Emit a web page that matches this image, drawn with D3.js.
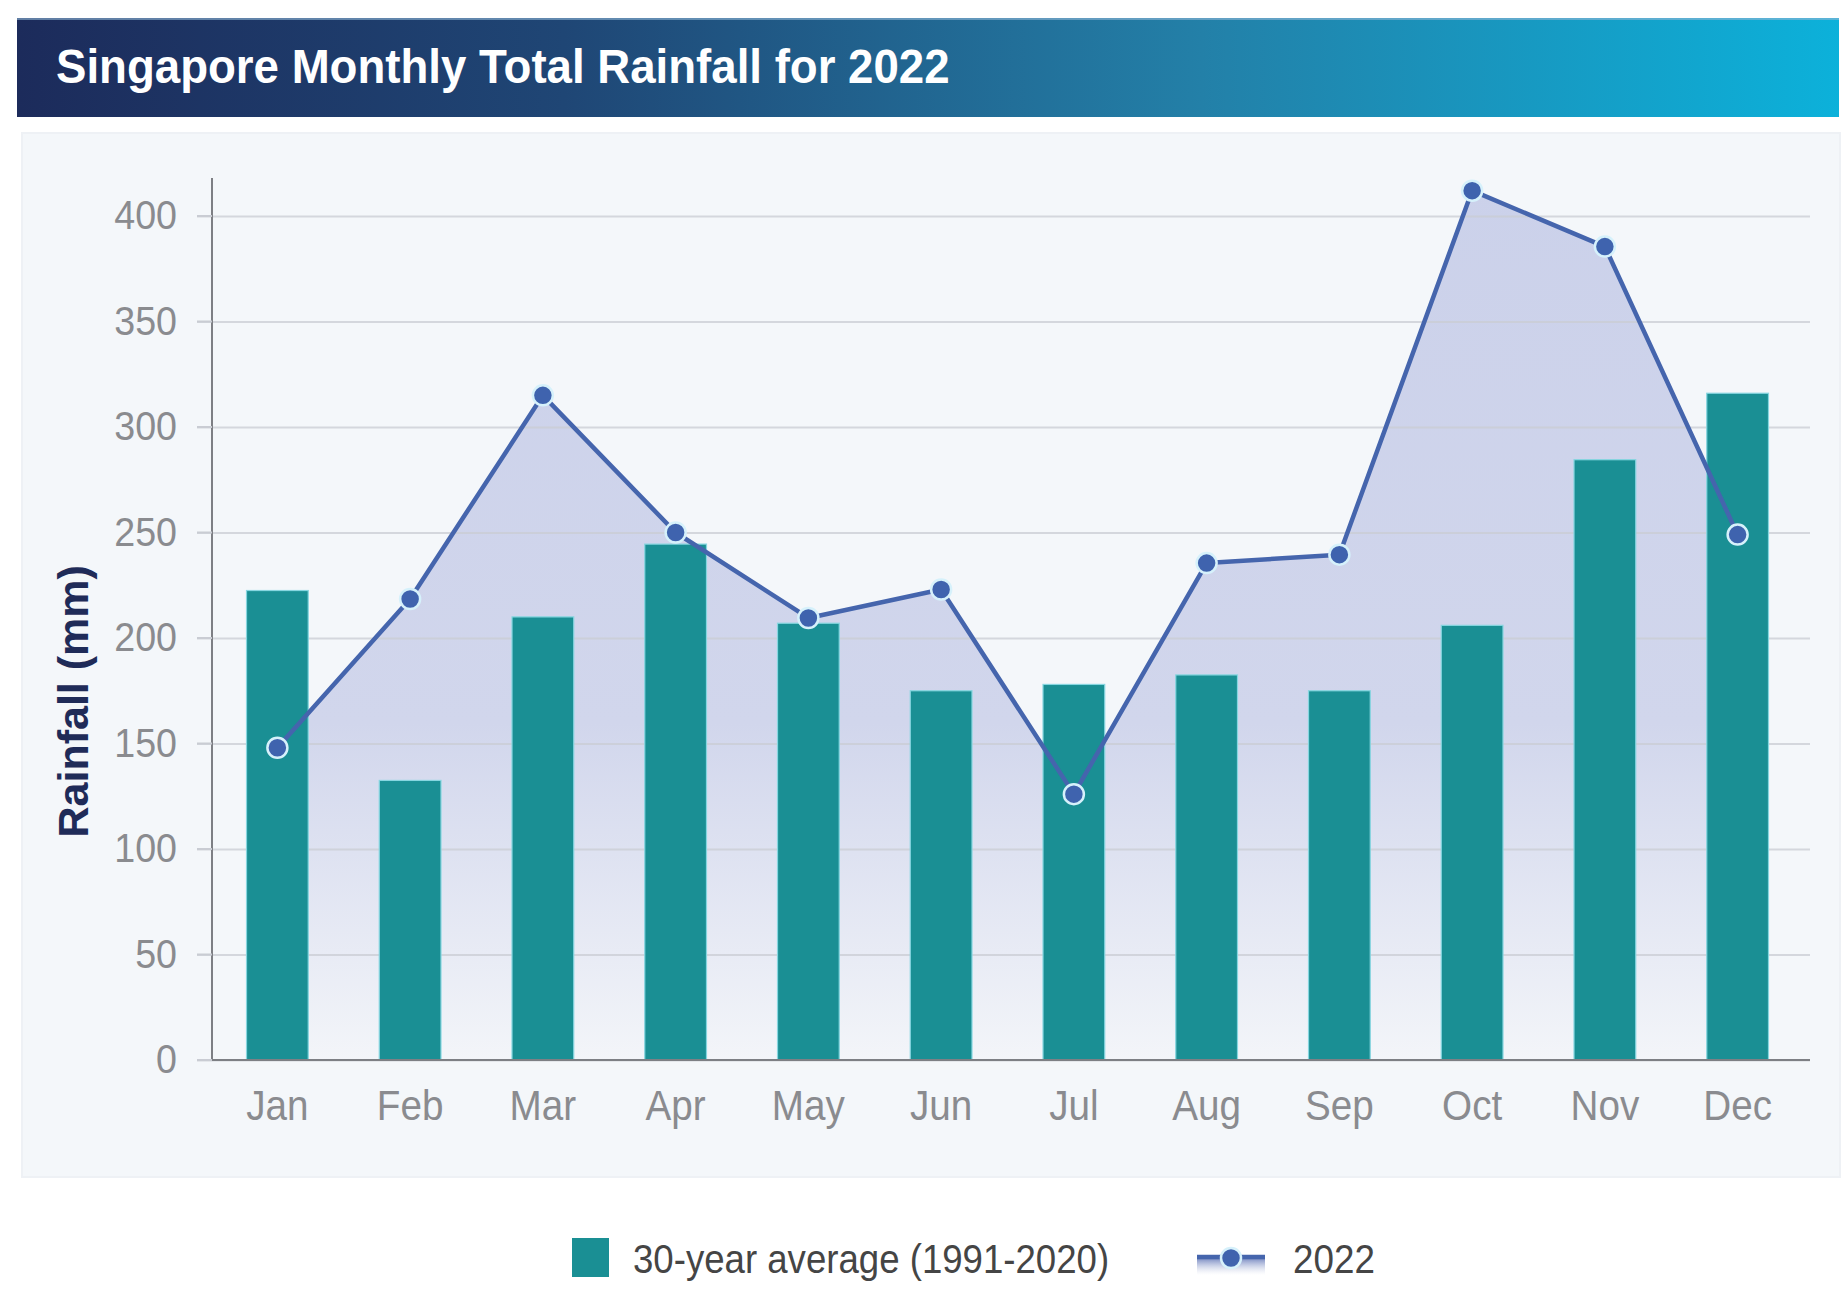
<!DOCTYPE html>
<html>
<head>
<meta charset="utf-8">
<script src="https://cdnjs.cloudflare.com/ajax/libs/d3/7.8.5/d3.min.js"></script>
<style>
  html, body { margin: 0; padding: 0; background: #ffffff; }
  svg { display: block; font-family: "Liberation Sans", Arial, sans-serif; }
</style>
</head>
<body>
<div id="chart"></div>
<script>

var months = ['Jan', 'Feb', 'Mar', 'Apr', 'May', 'Jun', 'Jul', 'Aug', 'Sep', 'Oct', 'Nov', 'Dec'];
var avg3020 = [222.5, 132.5, 210, 244.5, 207, 175, 178, 182.5, 175, 206, 284.5, 316];
var rain2022 = [148, 218.5, 315, 250, 209.5, 223, 126, 235.5, 239.5, 412, 385.5, 249];
var yTicks = [0, 50, 100, 150, 200, 250, 300, 350, 400];
var legendLabels = ['30-year average (1991-2020)', '2022'];
var chartTitle = 'Singapore Monthly Total Rainfall for 2022';
var yTitle = 'Rainfall (mm)';

var widthCont = 1848,
    heightCont = 1306;

var teal = '#1a8f94',
    lineBlue = '#4565ad',
    dotBlue = '#3f63ae';

var svg = d3.select('#chart').append('svg')
    .attr('width', widthCont)
    .attr('height', heightCont);

var defs = svg.append('defs');

var titleGrad = defs.append('linearGradient')
    .attr('id', 'titleGrad')
    .attr('x1', '0%').attr('x2', '100%').attr('y1', '0%').attr('y2', '0%');
titleGrad.append('stop').attr('offset', '0%').attr('stop-color', '#1c2b5b');
titleGrad.append('stop').attr('offset', '30%').attr('stop-color', '#1f4675');
titleGrad.append('stop').attr('offset', '65%').attr('stop-color', '#2380a8');
titleGrad.append('stop').attr('offset', '100%').attr('stop-color', '#0cb1da');

var x = d3.scaleBand()
    .domain(months)
    .range([211, 1804])
    .paddingInner(0.535)
    .paddingOuter(0.2675);

var y = d3.scaleLinear()
    .domain([0, 400])
    .range([1060, 216]);

var gridRight = 1810;

var areaGrad = defs.append('linearGradient')
    .attr('id', 'areaGrad')
    .attr('gradientUnits', 'userSpaceOnUse')
    .attr('x1', 0).attr('x2', 0)
    .attr('y1', y(420)).attr('y2', y(0));
areaGrad.append('stop').attr('offset', '0%').attr('stop-color', '#cbd1ea');
areaGrad.append('stop').attr('offset', '62%').attr('stop-color', '#d1d6ec');
areaGrad.append('stop').attr('offset', '100%').attr('stop-color', '#f3f5f9');

var legGrad = defs.append('linearGradient')
    .attr('id', 'legGrad')
    .attr('x1', 0).attr('x2', 0).attr('y1', 0).attr('y2', 1);
legGrad.append('stop').attr('offset', '0%').attr('stop-color', '#4a62ad');
legGrad.append('stop').attr('offset', '100%').attr('stop-color', '#ffffff').attr('stop-opacity', 0.3);

// the reference is a little squeezed sideways, so texts get narrowed
var squeeze = function( k ){
  return function( sel ){
    sel.each(function(){
      var len = this.getComputedTextLength();
      d3.select(this)
        .attr('textLength', len * k)
        .attr('lengthAdjust', 'spacingAndGlyphs');
    });
  };
};

// Title bar
svg.append('rect')
  .attr('x', 17).attr('y', 18)
  .attr('width', 1822).attr('height', 99)
  .attr('fill', 'url(#titleGrad)');

svg.append('line')
  .attr('x1', 17).attr('x2', 1839).attr('y1', 19).attr('y2', 19)
  .attr('stroke', '#8fb6d6').attr('stroke-width', 2).attr('opacity', 0.6);

svg.append('text')
  .attr('x', 56).attr('y', 83)
  .attr('fill', '#ffffff')
  .style('font-size', '48px')
  .style('font-weight', 'bold')
  .text(chartTitle)
  .call(squeeze(0.95));

// Panel
svg.append('rect')
  .attr('x', 22).attr('y', 133)
  .attr('width', 1818).attr('height', 1044)
  .attr('fill', '#f4f7fa')
  .attr('stroke', '#eef1f5')
  .attr('stroke-width', 2);

var cx = function(d, i){ return x(months[i]) + x.bandwidth() / 2; };

// Area under the 2022 line
var area = d3.area()
    .x(cx)
    .y0(y(0))
    .y1(function(d){ return y(d); });

svg.append('path')
  .datum(rain2022)
  .attr('d', area)
  .attr('fill', 'url(#areaGrad)');

// Gridlines
var grid = svg.append('g')
    .attr('transform', 'translate(' + gridRight + ',0)')
    .call(d3.axisLeft(y).tickValues(yTicks).tickSize(gridRight - 197).tickFormat(''));
grid.select('.domain').remove();
grid.selectAll('.tick line')
  .attr('stroke', '#c9ccd3')
  .attr('stroke-opacity', 0.75)
  .attr('stroke-width', 2);

// Bars
svg.append('g').selectAll('rect')
  .data(avg3020)
  .join('rect')
    .attr('x', function(d, i){ return x(months[i]); })
    .attr('y', function(d){ return y(d); })
    .attr('width', x.bandwidth())
    .attr('height', function(d){ return y(0) - y(d); })
    .attr('fill', teal)
    .attr('stroke', '#86d6e0')
    .attr('stroke-width', 1.2);

// Axis lines
svg.append('line')
  .attr('x1', 212).attr('x2', 212)
  .attr('y1', y(418)).attr('y2', y(0))
  .attr('stroke', '#7d7f84').attr('stroke-width', 2);

svg.append('line')
  .attr('x1', 212).attr('x2', gridRight)
  .attr('y1', y(0)).attr('y2', y(0))
  .attr('stroke', '#7d7f84').attr('stroke-width', 2);

// 2022 line and markers
var line = d3.line()
    .x(cx)
    .y(function(d){ return y(d); });

svg.append('path')
  .datum(rain2022)
  .attr('d', line)
  .attr('fill', 'none')
  .attr('stroke', lineBlue)
  .attr('stroke-width', 4.5)
  .attr('stroke-linejoin', 'round');

svg.append('g').selectAll('circle')
  .data(rain2022)
  .join('circle')
    .attr('cx', cx)
    .attr('cy', function(d){ return y(d); })
    .attr('r', 10)
    .attr('fill', dotBlue)
    .attr('stroke', '#d6f1fb')
    .attr('stroke-width', 2.5);

// Y tick labels
var yAxis = svg.append('g')
    .attr('transform', 'translate(212,0)')
    .call(d3.axisLeft(y).tickValues(yTicks).tickSize(0).tickPadding(35));
yAxis.select('.domain').remove();
yAxis.selectAll('.tick text')
  .attr('fill', '#8a8b8f')
  .style('font-size', '40px')
  .style('font-family', '"Liberation Sans", Arial, sans-serif')
  .call(squeeze(0.94));

// short tick marks left of the axis
svg.append('g').selectAll('line')
  .data(yTicks)
  .join('line')
    .attr('x1', 197).attr('x2', 212)
    .attr('y1', function(d){ return y(d); })
    .attr('y2', function(d){ return y(d); })
    .attr('stroke', '#c9ccd3').attr('stroke-width', 2);

// X tick labels
var xAxis = svg.append('g')
    .attr('transform', 'translate(0,' + y(0) + ')')
    .call(d3.axisBottom(x).tickSize(0).tickPadding(30));
xAxis.select('.domain').remove();
xAxis.selectAll('.tick text')
  .attr('fill', '#8a8b8f')
  .style('font-size', '42px')
  .style('font-family', '"Liberation Sans", Arial, sans-serif')
  .call(squeeze(0.92));

// Y title
svg.append('text')
  .attr('transform', 'translate(88,' + y(170) + ') rotate(-90)')
  .attr('text-anchor', 'middle')
  .attr('fill', '#1f2b58')
  .style('font-size', '43px')
  .style('font-weight', 'bold')
  .text(yTitle);

// Legend
var legend = svg.append('g');

legend.append('rect')
  .attr('x', 572).attr('y', 1238)
  .attr('width', 37).attr('height', 39)
  .attr('fill', teal);

legend.append('text')
  .attr('x', 633).attr('y', 1273)
  .attr('fill', '#454545')
  .style('font-size', '40px')
  .text(legendLabels[0])
  .call(squeeze(0.915));

legend.append('rect')
  .attr('x', 1197).attr('y', 1255)
  .attr('width', 68).attr('height', 20)
  .attr('fill', 'url(#legGrad)');

legend.append('line')
  .attr('x1', 1197).attr('x2', 1265)
  .attr('y1', 1257).attr('y2', 1257)
  .attr('stroke', lineBlue).attr('stroke-width', 4.5);

legend.append('circle')
  .attr('cx', 1231).attr('cy', 1258)
  .attr('r', 10)
  .attr('fill', dotBlue)
  .attr('stroke', '#d6f1fb')
  .attr('stroke-width', 2.5);

legend.append('text')
  .attr('x', 1293).attr('y', 1273)
  .attr('fill', '#454545')
  .style('font-size', '40px')
  .text(legendLabels[1])
  .call(squeeze(0.92));

</script>
</body>
</html>
